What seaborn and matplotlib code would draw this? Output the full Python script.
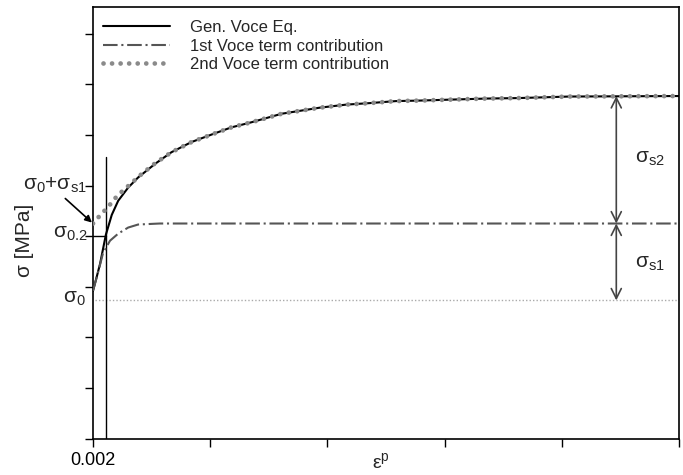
import numpy as np
import pandas as pd
import seaborn as sns
import matplotlib.pyplot as plt

# plastic strain and stress in tick units
strain_gen = [0.0020, 0.0026, 0.0032, 0.0042, 0.0052, 0.0063, 0.0080, 0.0097, 0.0126, 0.0154,
              0.0188, 0.0225, 0.0256, 0.0290, 0.0342, 0.0407, 0.0452, 0.0492, 0.0537,
              0.0577, 0.0633, 0.0691, 0.0747, 0.0833, 0.1020]
stress_gen = [2.92, 3.18, 3.45, 4.03, 4.42, 4.70, 4.96, 5.16, 5.43, 5.66,
              5.86, 6.02, 6.15, 6.25, 6.42, 6.54, 6.60, 6.63, 6.67,
              6.68, 6.70, 6.72, 6.73, 6.76, 6.77]

strain_v1 = [0.0020, 0.0029, 0.0037, 0.0049, 0.0063, 0.0080, 0.0097, 0.0134, 0.0200, 0.1020]
stress_v1 = [2.92, 3.30, 3.66, 3.91, 4.05, 4.17, 4.23, 4.25, 4.25, 4.25]

strain_v2 = [0.0020, 0.0032, 0.0046, 0.0057, 0.0071, 0.0085, 0.0098, 0.0126, 0.0154,
             0.0188, 0.0225, 0.0256, 0.0290, 0.0342, 0.0407, 0.0452, 0.0492, 0.0537,
             0.0577, 0.0633, 0.0691, 0.0747, 0.0833, 0.1020]
stress_v2 = [4.25, 4.41, 4.58, 4.74, 4.90, 5.04, 5.18, 5.44, 5.66,
             5.86, 6.02, 6.15, 6.25, 6.42, 6.54, 6.60, 6.63, 6.67,
             6.68, 6.70, 6.72, 6.73, 6.76, 6.77]

sigma_0 = 2.73
sigma_02 = 4.0
sigma_0_s1 = 4.25
sigma_sat = 6.77
strain_02 = 0.00416
x_ticks = [0.002, 0.022, 0.042, 0.062, 0.082, 0.102]
x_tick_labels = ["0.002", "", "", "", "", ""]
y_ticks = [0, 1, 2, 3, 4, 5, 6, 7, 8]

sns.set_style("ticks")
plt.rcParams['font.family'] = ['Liberation Sans', 'DejaVu Sans']
plt.rcParams['mathtext.default'] = 'regular'

fig = plt.figure(figsize=(6.83, 4.75), dpi=100)
ax = fig.add_axes([93 / 683, 36.5 / 475, 586 / 683, 431.5 / 475])

dfGen = pd.DataFrame({'strain': strain_gen, 'stress': stress_gen})
dfV1 = pd.DataFrame({'strain': strain_v1, 'stress': stress_v1})
dfV2 = pd.DataFrame({'strain': strain_v2, 'stress': stress_v2})

sns.lineplot(data=dfGen, x='strain', y='stress', ax=ax, color='black', lw=1.5,
             label='Gen. Voce Eq.', zorder=3)
sns.lineplot(data=dfV1, x='strain', y='stress', ax=ax, color='#555555', lw=1.5,
             linestyle=(0, (7, 1.8, 1, 1.8)), label='1st Voce term contribution', zorder=3)
sns.lineplot(data=dfV2, x='strain', y='stress', ax=ax, color='#8a8a8a', lw=3.4,
             linestyle=(0, (0.01, 1.8)), dash_capstyle='round',
             label='2nd Voce term contribution', zorder=4)

# sigma_0 level
ax.plot([0.0023, 0.102], [sigma_0, sigma_0], color='#aaaaaa', lw=1, linestyle=(0, (1, 1.5)))
# 0.2% offset construction
ax.plot([strain_02, strain_02], [0, 5.57], color='black', lw=1)
ax.plot([0.002, strain_02], [sigma_02, sigma_02], color='black', lw=1)

# saturation arrows
x_arr = 0.0913
arrowStyle = dict(arrowstyle='<->', color='#444444', lw=1.2, mutation_scale=18,
                  shrinkA=0, shrinkB=0)
ax.annotate('', xy=(x_arr, sigma_sat), xytext=(x_arr, sigma_0_s1), arrowprops=arrowStyle)
ax.annotate('', xy=(x_arr, sigma_0_s1), xytext=(x_arr, sigma_0), arrowprops=arrowStyle)
ax.text(0.0945, 5.53, r'σ$_{s2}$', fontsize=15, va='center', ha='left')
ax.text(0.0945, 3.46, r'σ$_{s1}$', fontsize=15, va='center', ha='left')

# y labels written by hand
yTrans = ax.get_yaxis_transform()
ax.text(-0.012, 2.77, r'σ$_0$', transform=yTrans, fontsize=15, ha='right', va='center')
ax.text(-0.010, 4.06, r'σ$_{0.2}$', transform=yTrans, fontsize=15, ha='right', va='center')
ax.annotate(r'σ$_0$+σ$_{s1}$', xy=(0.002, sigma_0_s1), xycoords='data',
            xytext=(-0.010, 5.0), textcoords=yTrans, fontsize=15, ha='right', va='center',
            arrowprops=dict(arrowstyle='-|>', color='black', lw=1.2, mutation_scale=10,
                            shrinkA=0, shrinkB=1, relpos=(0.6, 0.0)),
            annotation_clip=False)

ax.set_xlim(0.002, 0.102)
ax.set_ylim(0, 8.53)
ax.set_xticks(x_ticks)
ax.set_xticklabels(x_tick_labels, fontsize=13)
ax.set_yticks(y_ticks)
ax.set_yticklabels([])
ax.tick_params(direction='out', length=6, width=1, colors='black', pad=4)
for s in ax.spines.values():
    s.set_linewidth(1.2)
    s.set_color('black')

ax.set_xlabel(r'ε$^p$', fontsize=14)
ax.xaxis.set_label_coords(0.491, -0.032)
ax.set_ylabel('σ [MPa]', fontsize=15)
ax.yaxis.set_label_coords(-0.10, 0.46)

ax.legend(loc='upper left', bbox_to_anchor=(-0.011, 1.008), frameon=False, fontsize=12,
          handlelength=4.0, handletextpad=1.2, labelspacing=0.2, borderpad=0.5)

fig.savefig('out.png', dpi=100)
